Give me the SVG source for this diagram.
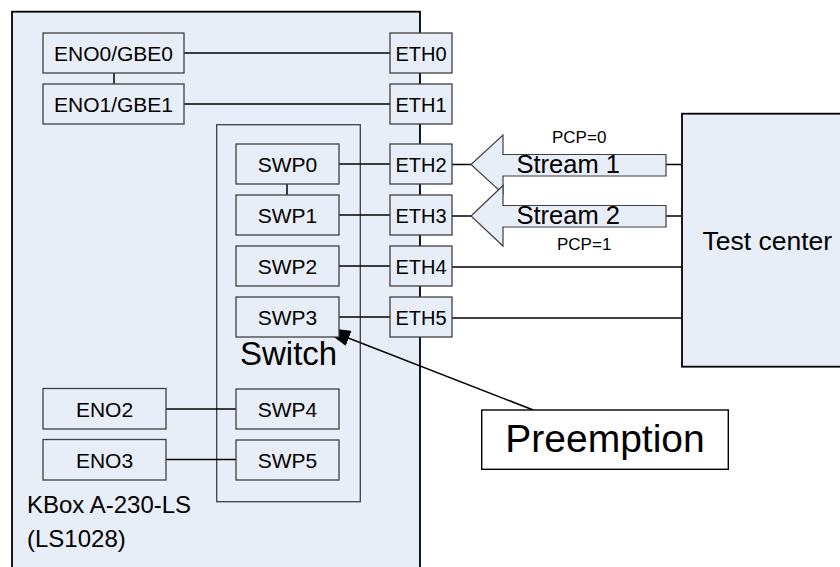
<svg xmlns="http://www.w3.org/2000/svg" width="840" height="567" viewBox="0 0 840 567">
<defs>
<style>
text{font-family:"Liberation Sans",Arial,sans-serif;fill:#000}
.box{fill:#e8eef7;stroke:#404040;stroke-width:1.3}
.big{fill:#e8eef7;stroke:#000;stroke-width:1.8}
.c{stroke:#000;stroke-width:1.5;fill:none}
.t21{font-size:21px;text-anchor:middle}
.t20{font-size:20px;text-anchor:middle}
.arr{fill:#e8eef7;stroke:#404040;stroke-width:1.2}
</style>
<marker id="ah" viewBox="0 0 30 16" refX="30" refY="8" markerWidth="30" markerHeight="16" markerUnits="userSpaceOnUse" orient="auto">
<path d="M0,0 L30,8 L0,16 Z" fill="#000"/>
</marker>
</defs>
<rect width="840" height="567" fill="#fff"/>
<g id="kbox">
<rect class="big" x="12" y="11.7" width="408" height="600"/>
<text x="27" y="513" font-size="24">KBox A-230-LS</text>
<text x="27" y="547" font-size="24">(LS1028)</text>
</g>
<g id="testcenter">
<rect class="big" x="682" y="113.7" width="200" height="253"/>
<text x="702.5" y="249.5" font-size="26.5">Test center</text>
</g>
<g id="switch">
<rect class="box" x="216.7" y="124.7" width="143.6" height="377"/>
<text x="240" y="365" font-size="33">Switch</text>
</g>
<g id="connectors">
<line class="c" x1="184" y1="53" x2="390" y2="53"/>
<line class="c" x1="184" y1="104" x2="390" y2="104"/>
<line class="c" x1="114" y1="73" x2="114" y2="84"/>
<line class="c" x1="287" y1="184" x2="287" y2="195"/>
<line class="c" x1="339" y1="164" x2="390" y2="164"/>
<line class="c" x1="339" y1="215" x2="390" y2="215"/>
<line class="c" x1="339" y1="266" x2="390" y2="266"/>
<line class="c" x1="339" y1="317" x2="390" y2="317"/>
<line class="c" x1="166" y1="409" x2="236" y2="409"/>
<line class="c" x1="166" y1="459.5" x2="236" y2="459.5"/>
<line class="c" x1="452" y1="164.5" x2="471" y2="164.5"/>
<line class="c" x1="666" y1="164.5" x2="682" y2="164.5"/>
<line class="c" x1="452" y1="216" x2="471" y2="216"/>
<line class="c" x1="666" y1="216" x2="682" y2="216"/>
<line class="c" x1="452" y1="267" x2="682" y2="267"/>
<line class="c" x1="452" y1="318" x2="682" y2="318"/>
<line class="c" x1="533.3" y1="410" x2="320.7" y2="327.3" marker-end="url(#ah)"/>
</g>
<g id="eno0"><rect class="box" x="43" y="33" width="141" height="40"/><text class="t21" x="113.5" y="61">ENO0/GBE0</text></g>
<g id="eno1"><rect class="box" x="43" y="84" width="141" height="40"/><text class="t21" x="113.5" y="112">ENO1/GBE1</text></g>
<g id="eno2"><rect class="box" x="43" y="388.5" width="123" height="40.5"/><text class="t21" x="104.5" y="416.5">ENO2</text></g>
<g id="eno3"><rect class="box" x="43" y="439.5" width="123" height="40.5"/><text class="t21" x="104.5" y="467.5">ENO3</text></g>
<g id="swp0"><rect class="box" x="236" y="144" width="103" height="40"/><text class="t21" x="287.5" y="171.5">SWP0</text></g>
<g id="swp1"><rect class="box" x="236" y="195" width="103" height="40"/><text class="t21" x="287.5" y="222.5">SWP1</text></g>
<g id="swp2"><rect class="box" x="236" y="246" width="103" height="40"/><text class="t21" x="287.5" y="273.5">SWP2</text></g>
<g id="swp3"><rect class="box" x="236" y="297" width="103" height="40"/><text class="t21" x="287.5" y="324.5">SWP3</text></g>
<g id="swp4"><rect class="box" x="236" y="389" width="103" height="40"/><text class="t21" x="287.5" y="416.5">SWP4</text></g>
<g id="swp5"><rect class="box" x="236" y="440" width="103" height="40"/><text class="t21" x="287.5" y="467.5">SWP5</text></g>
<g id="eth0"><rect class="box" x="390" y="33" width="62" height="40"/><text class="t20" x="421" y="60.5">ETH0</text></g>
<g id="eth1"><rect class="box" x="390" y="84" width="62" height="40"/><text class="t20" x="421" y="111.5">ETH1</text></g>
<g id="eth2"><rect class="box" x="390" y="144" width="62" height="40"/><text class="t20" x="421" y="171.5">ETH2</text></g>
<g id="eth3"><rect class="box" x="390" y="195" width="62" height="40"/><text class="t20" x="421" y="222.5">ETH3</text></g>
<g id="eth4"><rect class="box" x="390" y="246" width="62" height="40"/><text class="t20" x="421" y="273.5">ETH4</text></g>
<g id="eth5"><rect class="box" x="390" y="297" width="62" height="40"/><text class="t20" x="421" y="324.5">ETH5</text></g>
<g id="stream1">
<polygon class="arr" points="471,164.5 503,135 503,154.5 666,154.5 666,176 503,176 503,194"/>
<text x="516.5" y="172.5" font-size="25.5">Stream 1</text>
<text x="552" y="142.5" font-size="17">PCP=0</text>
</g>
<g id="stream2">
<polygon class="arr" points="471,216 503,185.5 503,205.5 666,205.5 666,227 503,227 503,246"/>
<text x="516.5" y="224" font-size="25.5">Stream 2</text>
<text x="557" y="249.5" font-size="17">PCP=1</text>
</g>
<g id="preemption">
<rect x="481.7" y="410" width="246.6" height="59.3" fill="#fff" stroke="#000" stroke-width="1.4"/>
<text x="605" y="452" font-size="39" text-anchor="middle">Preemption</text>
</g>
</svg>
